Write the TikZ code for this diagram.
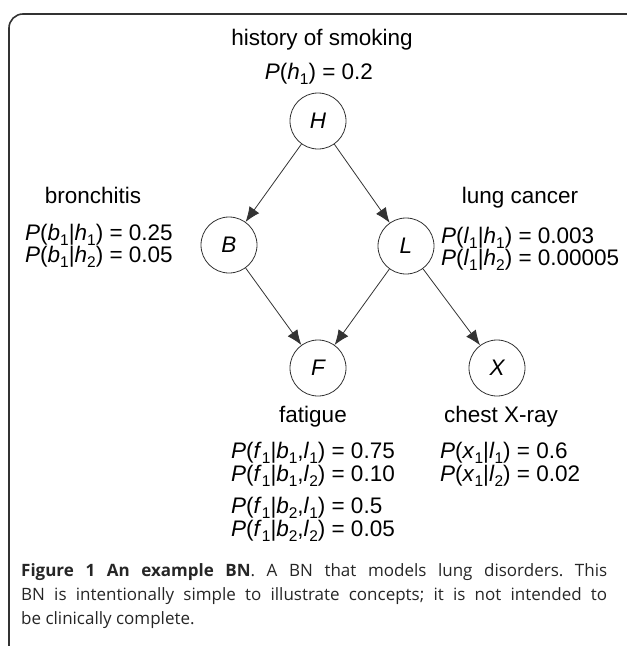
\documentclass[tikz,border=0pt]{standalone}
\usepackage{fontspec}
\setmainfont{Liberation Sans}
\newfontfamily\capfont{Open Sans}
\usetikzlibrary{positioning, arrows.meta}

\newcommand{\vr}[1]{\textit{#1}}
\newcommand{\sub}[1]{\raisebox{-5.5pt}{\fontsize{15.5}{16}\selectfont #1}}

\begin{document}
\begin{tikzpicture}[x=1pt, y=-1pt, font=\fontsize{22.5}{24}\selectfont]
    \tikzstyle{varnode} = [circle, draw=black!80, line width=0.8pt, minimum size=56pt, inner sep=0pt, font=\fontsize{22.5}{24}\selectfont\itshape]
    \tikzstyle{varname} = [inner sep=0pt, anchor=base]
    \tikzstyle{cpt} = [inner sep=0pt, anchor=base west]
    \tikzstyle{arrow} = [draw=black!80, line width=0.8pt, -{Latex[length=15pt, width=12pt]}]

    \useasboundingbox (0,0) rectangle (627,646);
    \draw [black!80, line width=1.6pt, rounded corners=14pt] (9,646) -- (9,14) -- (627,14);

    % the network
    \node (H) [varnode] at (318,121) {H};
    \node (B) [varnode] at (229,245) {B};
    \node (L) [varnode] at (406,246) {L};
    \node (F) [varnode] at (318,368) {F};
    \node (X) [varnode] at (497,368) {X};

    \draw [arrow] (H) -- (B);
    \draw [arrow] (H) -- (L);
    \draw [arrow] (B) -- (F);
    \draw [arrow] (L) -- (F);
    \draw [arrow] (L) -- (X);

    % names and probabilities
    \node (hname) [varname] at (322,45) {history of smoking};
    \node (hp1) [varname] at (319,79) {\vr{P}(\vr{h}\sub{1}) = 0.2};

    \node (bname) [varname] at (93,203) {bronchitis};
    \node (bp1) [cpt] at (25,240) {\vr{P}(\vr{b}\sub{1}|\vr{h}\sub{1}) = 0.25};
    \node (bp2) [cpt] at (25,262) {\vr{P}(\vr{b}\sub{1}|\vr{h}\sub{2}) = 0.05};

    \node (lname) [varname] at (520,203) {lung cancer};
    \node (lp1) [cpt] at (441,243) {\vr{P}(\vr{l}\sub{1}|\vr{h}\sub{1}) = 0.003};
    \node (lp2) [cpt] at (441,265) {\vr{P}(\vr{l}\sub{1}|\vr{h}\sub{2}) = 0.00005};

    \node (fname) [varname] at (313,422) {fatigue};
    \node (fp1) [cpt] at (231,458) {\vr{P}(\vr{f}\sub{1}|\vr{b}\sub{1},\vr{l}\sub{1}) = 0.75};
    \node (fp2) [cpt] at (231,481) {\vr{P}(\vr{f}\sub{1}|\vr{b}\sub{1},\vr{l}\sub{2}) = 0.10};
    \node (fp3) [cpt] at (231,513) {\vr{P}(\vr{f}\sub{1}|\vr{b}\sub{2},\vr{l}\sub{1}) = 0.5};
    \node (fp4) [cpt] at (231,536) {\vr{P}(\vr{f}\sub{1}|\vr{b}\sub{2},\vr{l}\sub{2}) = 0.05};

    \node (xname) [varname] at (501,422) {chest X-ray};
    \node (xp1) [cpt] at (440,458) {\vr{P}(\vr{x}\sub{1}|\vr{l}\sub{1}) = 0.6};
    \node (xp2) [cpt] at (440,481) {\vr{P}(\vr{x}\sub{1}|\vr{l}\sub{2}) = 0.02};

    % caption
    \node (caption) [inner sep=0pt, anchor=north west, text width=586pt, align=justify, text=black!85,
        font=\capfont\fontsize{17}{24}\selectfont\frenchspacing] at (21,563)
        {\textbf{Figure 1 An example BN}. A BN that models lung disorders. This\linebreak
         BN is intentionally simple to illustrate concepts; it is not intended to\linebreak
         be clinically complete.};
\end{tikzpicture}
\end{document}
